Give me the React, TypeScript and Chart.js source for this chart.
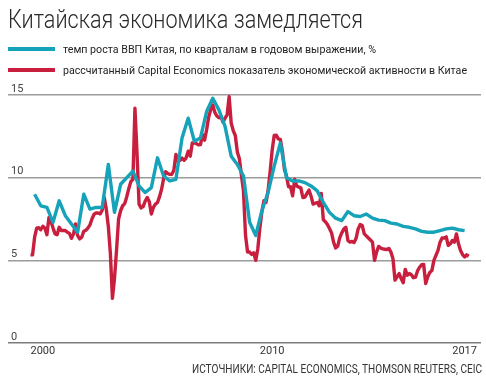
import React, { useEffect, useRef } from "react";
import { Chart, registerables } from "chart.js";

Chart.register(...registerables);

const TITLE = "Китайская экономика замедляется";
const GDP_LABEL = "темп роста ВВП Китая, по кварталам в годовом выражении, %";
const ACTIVITY_LABEL =
  "рассчитанный Capital Economics показатель экономической активности в Китае";
const SOURCE = "ИСТОЧНИКИ: CAPITAL ECONOMICS, THOMSON REUTERS, CEIC";

// Axis spans Feb 1999 .. May 2018 (monthly categories)
const AXIS_START_YEAR = 1999;
const AXIS_START_MONTH = 2;
const AXIS_MONTHS = 232;

// Capital Economics activity proxy, monthly, from Jan 2000
const ACTIVITY_START = "2000-01";
const activity = [
  5.33, 5.33, 6.4, 6.95, 6.98, 6.85, 7.06, 6.95, 6.55, 7.6,
  7.35, 6.95, 6.6, 6.55, 7.0, 6.8, 6.8, 6.8, 6.7, 6.63,
  6.33, 6.6, 7.2, 6.5, 6.3, 6.4, 6.76, 6.82, 6.95, 7.14,
  7.5, 7.78, 7.87, 7.86, 7.81, 8.03, 8.8, 8.1, 7.05, 5.4,
  2.7, 3.9, 5.6, 7.5, 8.0, 8.3, 8.43, 8.85, 9.35, 9.77,
  9.9, 14.2, 11.5, 8.4, 8.17, 8.25, 8.58, 8.8, 8.55, 7.8,
  8.2, 8.4, 8.5, 8.85, 9.3, 9.95, 10.36, 10.25, 10.2, 10.2,
  10.45, 11.4, 11.0, 11.05, 11.18, 11.05, 11.2, 11.6, 11.3, 12.1,
  12.1, 12.06, 11.98, 12.0, 12.6, 12.27, 12.9, 13.66, 14.1, 14.4,
  13.95, 13.73, 13.62, 13.7, 13.36, 13.6, 13.8, 14.9, 13.3, 12.85,
  12.55, 11.55, 11.15, 10.15, 9.2, 6.5, 5.5, 5.5, 5.36, 5.46,
  5.0, 5.7, 6.95, 7.95, 8.6, 8.5, 9.2, 10.35, 11.65, 12.55,
  12.57, 12.35, 12.32, 11.6, 10.5, 10.1, 9.45, 9.45, 8.9, 9.9,
  9.5, 9.43, 9.38, 8.8, 8.82, 9.05, 9.25, 8.88, 8.4, 8.45,
  8.5, 8.3, 9.05, 7.45, 7.33, 7.17, 6.92, 6.66, 6.1, 5.75,
  5.85, 6.36, 6.66, 6.89, 7.0, 6.2, 6.1, 6.14, 6.08, 6.33,
  6.9, 7.16, 7.1, 6.6, 6.48, 6.35, 6.23, 6.1, 5.0, 5.5,
  5.84, 5.75, 5.69, 5.67, 5.65, 5.72, 5.5, 5.1, 3.8, 4.0,
  4.2, 3.9, 3.65, 4.45, 4.1, 4.2, 4.13, 3.95, 3.98, 4.36,
  4.58, 4.73, 4.75, 3.6, 4.0, 4.27, 4.38, 5.0, 5.3, 5.6,
  6.1, 6.35, 6.35, 6.42, 5.9, 6.0, 6.2, 6.1, 6.6, 6.0,
  5.6, 5.35, 5.2, 5.33, 5.25,
];

// GDP growth y/y, quarterly (plotted at quarter-end month), from 2000 Q1
const GDP_START = "2000-03";
const gdp = [
  9.0, 8.3, 8.2, 7.3, 8.6, 7.7, 7.2, 6.7, 9.0, 8.1,
  8.2, 8.2, 10.8, 7.9, 9.6, 10.0, 10.4, 9.5, 9.1, 9.4,
  11.2, 10.1, 9.8, 9.9, 12.4, 13.6, 12.2, 12.4, 14.0, 14.8,
  14.1, 13.1, 11.3, 10.8, 10.1, 7.3, 6.5, 8.0, 9.1, 10.7,
  12.1, 10.0, 9.8, 9.8, 9.7, 9.5, 9.2, 8.5, 7.9, 7.55,
  7.4, 7.95, 7.7, 7.65, 7.8, 7.55, 7.43, 7.4, 7.25, 7.2,
  7.05, 7.0, 6.9, 6.75, 6.7, 6.7, 6.8, 6.9, 6.95, 6.85,
  6.8,
];

const yTicks = [0, 5, 10, 15];
const xTickLabels = ["2000", "2010", "2017"];
const xTickMonths = ["2000-07", "2009-11", "2017-09"];

const TEAL = "#16a2b8";
const RED = "#c91f3e";
const FONT = "Roboto, 'Open Sans', 'Noto Sans', sans-serif";

function buildMonths(): string[] {
  const out: string[] = [];
  for (let i = 0; i < AXIS_MONTHS; i++) {
    const t = AXIS_START_YEAR * 12 + (AXIS_START_MONTH - 1) + i;
    out.push(`${Math.floor(t / 12)}-${String((t % 12) + 1).padStart(2, "0")}`);
  }
  return out;
}

export default function App() {
  const canvasRef = useRef<HTMLCanvasElement | null>(null);
  const titleRef = useRef<HTMLSpanElement | null>(null);
  const leg1Ref = useRef<HTMLSpanElement | null>(null);
  const leg2Ref = useRef<HTMLSpanElement | null>(null);
  const srcRef = useRef<HTMLSpanElement | null>(null);

  useEffect(() => {
    document.body.style.margin = "0";
    const fits: [HTMLSpanElement | null, number][] = [
      [titleRef.current, 355],
      [leg1Ref.current, 313],
      [leg2Ref.current, 404],
      [srcRef.current, 290],
    ];
    fits.forEach(([el, target]) => {
      if (!el) return;
      const w = el.getBoundingClientRect().width;
      if (w > 0) {
        const s = Math.max(0.75, Math.min(1.25, target / w));
        el.style.transform = `scaleX(${s})`;
      }
    });

    const months = buildMonths();
    const actSeries: (number | null)[] = months.map(() => null);
    const a0 = months.indexOf(ACTIVITY_START);
    activity.forEach((v, i) => {
      actSeries[a0 + i] = v;
    });
    const gdpSeries: (number | null)[] = months.map(() => null);
    const g0 = months.indexOf(GDP_START);
    gdp.forEach((v, i) => {
      gdpSeries[g0 + i * 3] = v;
    });
    const tickIdx = xTickMonths.map((m) => months.indexOf(m));

    const chart = new Chart(canvasRef.current!, {
      type: "line",
      data: {
        labels: months,
        datasets: [
          {
            label: GDP_LABEL,
            data: gdpSeries,
            borderColor: TEAL,
            backgroundColor: TEAL,
            borderWidth: 3.4,
            pointRadius: 0,
            spanGaps: true,
            tension: 0,
            borderJoinStyle: "round",
            order: 0,
          },
          {
            label: ACTIVITY_LABEL,
            data: actSeries,
            borderColor: RED,
            backgroundColor: RED,
            borderWidth: 3.4,
            pointRadius: 0,
            spanGaps: false,
            tension: 0,
            borderJoinStyle: "round",
            order: 1,
          },
        ],
      },
      options: {
        animation: false,
        responsive: false,
        maintainAspectRatio: false,
        events: [],
        layout: { padding: { left: 8, right: 5, top: 95, bottom: 17 } },
        plugins: {
          legend: { display: false },
          tooltip: { enabled: false },
          title: { display: false },
        },
        scales: {
          x: {
            type: "category",
            grid: { display: false, drawTicks: false },
            border: { display: false },
            ticks: {
              autoSkip: false,
              maxRotation: 0,
              minRotation: 0,
              padding: 2,
              color: "#333",
              font: { family: FONT, size: 11 },
              callback: (value: any) => {
                const j = tickIdx.indexOf(Number(value));
                return j >= 0 ? xTickLabels[j] : "";
              },
            },
            afterBuildTicks: (axis: any) => {
              axis.ticks = tickIdx.map((v) => ({ value: v }));
            },
            afterFit: (axis: any) => {
              axis.height = 20;
            },
          },
          y: {
            position: "left",
            min: 0,
            max: 15,
            afterBuildTicks: (axis: any) => {
              axis.ticks = yTicks.map((v) => ({ value: v }));
            },
            afterFit: (axis: any) => {
              axis.width = 0;
            },
            ticks: {
              mirror: true,
              padding: 3,
              labelOffset: -6,
              color: "#444",
              font: { family: FONT, size: 11 },
            },
            grid: {
              drawTicks: false,
              lineWidth: 1.5,
              color: (ctx: any) =>
                ctx.tick && ctx.tick.value === 0 ? "#7c7c7c" : "#9c9c9c",
            },
            border: { display: false },
          },
        },
      },
    });
    return () => chart.destroy();
  }, []);

  const abs = (s: React.CSSProperties): React.CSSProperties => ({
    position: "absolute",
    whiteSpace: "nowrap",
    fontFamily: FONT,
    ...s,
  });

  return (
    <div style={{ position: "relative", width: 486, height: 380, background: "#fff", overflow: "hidden" }}>
      <canvas ref={canvasRef} width={486} height={380} style={{ position: "absolute", left: 0, top: 0 }} />
      <div style={abs({ left: 8, top: 7, fontSize: 25, lineHeight: "25px", fontWeight: 300, color: "#2a2a2a" })}>
        <span ref={titleRef} style={{ display: "inline-block", transformOrigin: "left center" }}>{TITLE}</span>
      </div>
      <div style={abs({ left: 8, top: 47, width: 47, height: 4, background: TEAL })} />
      <div style={abs({ left: 63, top: 44, fontSize: 11, lineHeight: "11px", color: "#222" })}>
        <span ref={leg1Ref} style={{ display: "inline-block", transformOrigin: "left center" }}>{GDP_LABEL}</span>
      </div>
      <div style={abs({ left: 8, top: 68, width: 47, height: 4, background: RED })} />
      <div style={abs({ left: 63, top: 64.5, fontSize: 11, lineHeight: "11px", color: "#222" })}>
        <span ref={leg2Ref} style={{ display: "inline-block", transformOrigin: "left center" }}>{ACTIVITY_LABEL}</span>
      </div>
      <div style={abs({ right: 4, top: 363, fontSize: 12.5, lineHeight: "12.5px", color: "#333", textAlign: "right" })}>
        <span ref={srcRef} style={{ display: "inline-block", transformOrigin: "right center" }}>{SOURCE}</span>
      </div>
    </div>
  );
}
